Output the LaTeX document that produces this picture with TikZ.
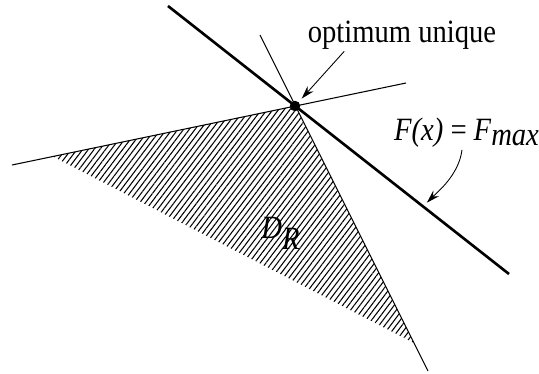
\documentclass[tikz,border=0pt]{standalone}
\usepackage{fontspec}
\setmainfont{Liberation Serif}[FakeStretch=0.88]
\usetikzlibrary{arrows.meta,patterns.meta,calc}

\begin{document}
\begin{tikzpicture}[
	x=0.02cm, y=-0.02cm,
	font=\fontsize{18.5}{21}\selectfont,
	bound/.style={line width=0.6pt},
	objline/.style={line width=1.5pt},
	dot/.style={circle, fill=black, inner sep=0pt, minimum size=0.21cm},
	lbl/.style={inner sep=1pt},
	arr/.style={-{Stealth[length=7.5pt,width=4.5pt]}, line width=0.5pt}
	]
	\useasboundingbox (0,0) rectangle (539,373);
	\coordinate (c1s) at (12,165);
	\coordinate (c1e) at (406,83);
	\coordinate (c2s) at (260,35);
	\coordinate (c2e) at (428,371);
	\coordinate (fs) at (168,6);
	\coordinate (fe) at (509,274);
	\coordinate (hl) at (53,156.5);
	\coordinate (hb) at (414,343);
	\coordinate (fpt) at ($(fs)!0.748!(fe)$);
	\fill[pattern={Lines[angle=53,distance=2.6pt,line width=0.6pt]}] (295,106) -- (hl) -- (hb) -- cycle;
	\draw[bound] (c1s) -- (c1e);
	\draw[bound] (c2s) -- (c2e);
	\draw[objline] (fs) -- (fe);
	\node[dot] (opt) at (295,106) {};
	\node[lbl] (optlbl) at (402,35) {optimum unique};
	\node[lbl] (fmax) at (467,133) {\textit{F(x)\,=\,F}$_{\textit{max}}$};
	\node[lbl] (dr) at (281,233) {\textit{D}$_{\textit{R}}$};
	\draw[arr, shorten >=2.5pt] ($(optlbl.south west)!0.2!(optlbl.south east)$) -- (opt);
	\draw[arr, shorten >=3pt] ($(fmax.south)+(-5,0)$) .. controls +(-3,25) and +(14,-14) .. (fpt);
\end{tikzpicture}
\end{document}
